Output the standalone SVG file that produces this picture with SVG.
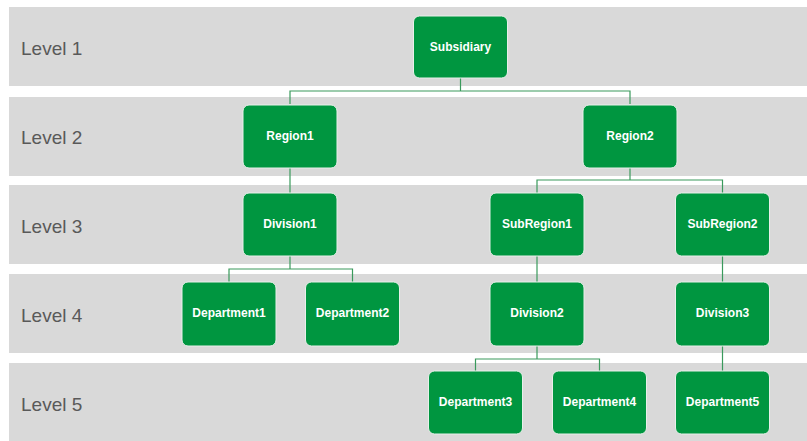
<svg xmlns="http://www.w3.org/2000/svg" width="807" height="441" viewBox="0 0 807 441">
<style>
.band{fill:#d9d9d9}
.lvl{font-family:"Liberation Sans",Arial,sans-serif;font-size:19px;fill:#595959}
.node rect{fill:#009640;stroke:#e8f0ea;stroke-width:1}
.node text{font-family:"Liberation Sans",Arial,sans-serif;font-size:12px;font-weight:bold;fill:#ffffff;text-anchor:middle;dominant-baseline:central}
.conn{fill:none;stroke:#3a9a5c;stroke-width:1.2}
</style>
<rect width="807" height="441" fill="#ffffff"/>
<g id="bands">
<rect class="band" x="9" y="7" width="798" height="79"/>
<rect class="band" x="9" y="97" width="798" height="79"/>
<rect class="band" x="9" y="185" width="798" height="79"/>
<rect class="band" x="9" y="274" width="798" height="79"/>
<rect class="band" x="9" y="363" width="798" height="78"/>
<text class="lvl" x="21" y="54.5">Level 1</text>
<text class="lvl" x="21" y="143.5">Level 2</text>
<text class="lvl" x="21" y="232.5">Level 3</text>
<text class="lvl" x="21" y="321.5">Level 4</text>
<text class="lvl" x="21" y="411">Level 5</text>
</g>
<g id="connectors">
<path class="conn" d="M460.5 78V91M290 104V91H630V104"/>
<path class="conn" d="M290 168V193"/>
<path class="conn" d="M630 168V180M537 193V180H722.5V193"/>
<path class="conn" d="M290 256V269M229 282V269H352.5V282"/>
<path class="conn" d="M537 256V282"/>
<path class="conn" d="M722.5 256V282"/>
<path class="conn" d="M537 346V359M475.5 371V359H599.5V371"/>
<path class="conn" d="M722.5 346V371"/>
</g>
<g id="subsidiary" class="node"><rect x="413.5" y="16" width="94" height="62" rx="6"/><text x="460.5" y="47">Subsidiary</text></g>
<g id="region1" class="node"><rect x="243" y="105" width="94" height="63" rx="6"/><text x="290" y="136">Region1</text></g>
<g id="region2" class="node"><rect x="583" y="105" width="94" height="63" rx="6"/><text x="630" y="136">Region2</text></g>
<g id="division1" class="node"><rect x="243" y="193" width="94" height="63" rx="6"/><text x="290" y="224">Division1</text></g>
<g id="subregion1" class="node"><rect x="490" y="193" width="94" height="63" rx="6"/><text x="537" y="224">SubRegion1</text></g>
<g id="subregion2" class="node"><rect x="675.5" y="193" width="94" height="63" rx="6"/><text x="722.5" y="224">SubRegion2</text></g>
<g id="department1" class="node"><rect x="182" y="282" width="94" height="64" rx="6"/><text x="229" y="313">Department1</text></g>
<g id="department2" class="node"><rect x="305.5" y="282" width="94" height="64" rx="6"/><text x="352.5" y="313">Department2</text></g>
<g id="division2" class="node"><rect x="490" y="282" width="94" height="64" rx="6"/><text x="537" y="313">Division2</text></g>
<g id="division3" class="node"><rect x="675.5" y="282" width="94" height="64" rx="6"/><text x="722.5" y="313">Division3</text></g>
<g id="department3" class="node"><rect x="428.5" y="371" width="94" height="63" rx="6"/><text x="475.5" y="402">Department3</text></g>
<g id="department4" class="node"><rect x="552.5" y="371" width="94" height="63" rx="6"/><text x="599.5" y="402">Department4</text></g>
<g id="department5" class="node"><rect x="675.5" y="371" width="94" height="63" rx="6"/><text x="722.5" y="402">Department5</text></g>
</svg>
